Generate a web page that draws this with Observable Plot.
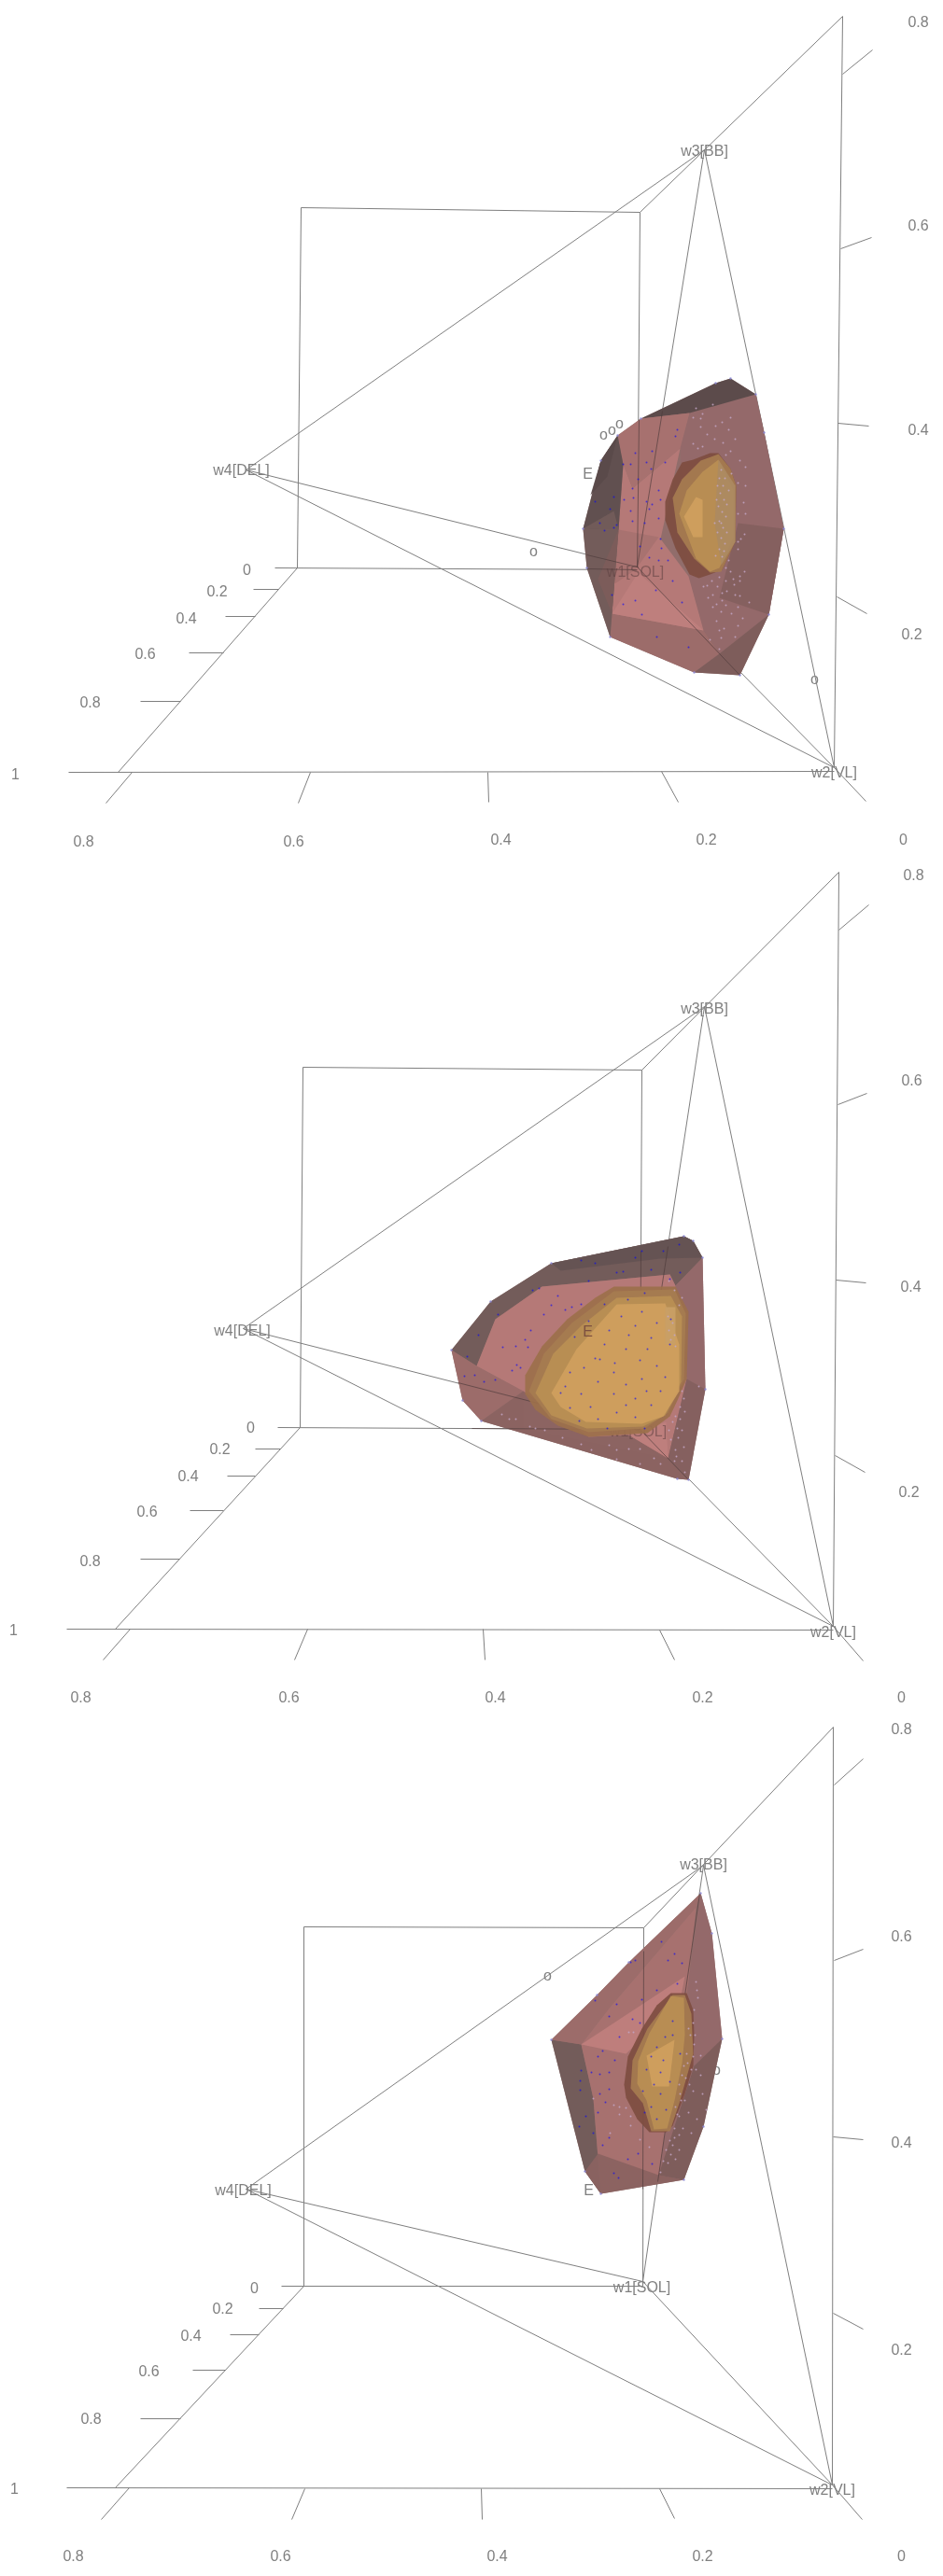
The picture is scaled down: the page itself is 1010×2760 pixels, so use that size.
<!DOCTYPE html>
<html><head><meta charset="utf-8">
<script src="https://cdn.jsdelivr.net/npm/d3@7"></script>
<script src="https://cdn.jsdelivr.net/npm/@observablehq/plot@0.6"></script>
<style>html,body{margin:0;background:#fff}svg{display:block;filter:blur(.25px)}</style>
</head><body><div id="chart"></div>
<script>
// Axis labels, simplex vertices and outliers read from each rotated view: [text, x, y]
const labels1=[["0.8",983,23],["0.6",983,241],["0.4",983,460],["0.2",976,679],["0",264,610],["0.2",232,633],["0.4",199,662],["0.6",155,700],["0.8",96,752],["1",16,829],["0.8",89,901],["0.6",314,901],["0.4",536,899],["0.2",756,899],["0",967,899],["w3[BB]",754,161],["w4[DEL]",258,503],["w2[VL]",893,827],["w1[SOL]",680,612],["E",629,507],["o",646,465],["o",655,460],["o",663,453],["o",571,590],["o",872,727]];
const labels2=[["0.8",978,17],["0.6",976,237],["0.4",975,458],["0.2",973,678],["0",268,609],["0.2",235,632],["0.4",201,661],["0.6",157,699],["0.8",96,752],["1",14,826],["0.8",86,898],["0.6",309,898],["0.4",530,898],["0.2",752,898],["0",965,898],["w3[BB]",754,160],["w4[DEL]",259,505],["w2[VL]",892,828],["w1[SOL]",683,613],["E",629,506]];
const labels3=[["0.8",965,12],["0.6",965,234],["0.4",965,455],["0.2",965,677],["0",272,611],["0.2",238,633],["0.4",204,662],["0.6",159,700],["0.8",97,751],["1",15,826],["0.8",78,898],["0.6",300,898],["0.4",532,898],["0.2",752,898],["0",965,898],["w3[BB]",753,157],["w4[DEL]",260,506],["w2[VL]",891,827],["w1[SOL]",687,610],["E",630,506],["o",586,276],["o",767,377]];
const ghostLabels1=[["w1[SOL]",680,612]];
const ghostLabels2=[["w1[SOL]",683,613],["E",629,506]];
const ghostLabels3=[];

// Box edges, simplex edges and axis ticks: [x1,y1,x2,y2]
const edges1=[[322,222,685,227],[322,222,318,608],[685,227,682,610],[294,608,682,610],[73,827,893,826],[318,608,126,827],[902,17,893,822],[902,17,685,227],[754,160,263,503],[754,160,682,607],[754,160,893,822],[263,503,682,607],[263,503,893,822],[682,607,893,822],[902,79,934,53],[900,266,933,254],[897,453,930,456],[896,639,928,657],[893,822,927,858],[271,631,298,631],[241,660,273,660],[202,699,239,699],[150,751,193,751],[141,827,113,860],[332,827,319,860],[522,827,523,859],[708,826,726,859]];
const edges2=[[324,223,687,226],[324,223,321,609],[687,226,685,611],[297,609,685,611],[71,825,892,826],[321,609,123,825],[898,14,892,822],[898,14,687,226],[754,158,260,503],[754,158,685,611],[754,158,892,822],[260,503,685,611],[260,503,892,822],[685,611,892,822],[898,76,930,49],[897,263,928,251],[895,451,927,454],[894,639,926,657],[892,822,924,859],[273,632,300,632],[243,661,273,661],[203,698,239,698],[150,750,192,750],[139,825,110,858],[329,825,315,858],[517,825,519,858],[706,826,722,858]];
const edges3=[[325,224,689,225],[325,224,325,609],[689,225,688,609],[301,609,688,609],[71,825,891,826],[325,609,123,825],[892,10,891,822],[892,10,689,225],[753,158,263,505],[753,158,688,604],[753,158,891,822],[263,505,688,604],[263,505,891,822],[688,604,891,822],[893,72,924,44],[893,260,924,248],[892,449,924,452],[892,638,924,655],[891,822,923,859],[277,633,303,633],[246,661,277,661],[206,699,241,699],[150,751,193,751],[138,825,108,859],[326,826,312,859],[515,826,516,859],[706,826,722,858]];
// Stretches of those edges that show through the translucent outer hull
const throughHull1=[[684,449,682,607],[709,440,682,607],[628,594,682,607],[628,609,682,610],[682,607,792,723]];
const throughHull2=[[686,420,685,611],[715,415,685,611],[490,561,685,611],[505,610,685,611],[685,611,737,665]];
const throughHull3=[[689,250,688,505],[749,188,704,497]];

// Outer convex hull: silhouette vertices
const outline1=[[782,405],[809,422],[818,463],[839,566],[823,658],[792,723],[743,720],[653,682],[628,608],[624,566],[643,493],[661,466],[686,448],[766,410]];
const outline2=[[732,404],[742,409],[752,427],[755,568],[737,665],[725,664],[515,602],[495,580],[483,526],[525,474],[590,433]];
const outline3=[[750,188],[762,231],[773,344],[753,438],[732,495],[643,510],[626,486],[590,345],[639,297],[673,262]];

// Hull facets: [shade, vertices]
const hull1=[
["base",outline1],
["mid",[[738,442],[809,422],[818,463],[839,566],[823,658],[770,700],[753,675],[737,617],[728,480]]],
["midLow",[[839,566],[823,658],[770,640],[790,560]]],
["midWarm",[[653,682],[655,657],[753,675],[770,700],[743,720]]],
["shadow",[[743,720],[770,700],[823,658],[792,723]]],
["darkest",[[686,448],[766,410],[782,405],[809,422],[738,442]]],
["rose",[[661,466],[686,448],[738,442],[728,480],[677,523],[667,497]]],
["pink",[[667,497],[677,523],[728,480],[707,577],[737,617],[753,675],[655,657],[662,567]]],
["rose",[[662,567],[705,575],[680,610],[658,625]]],
["pinkHi",[[655,657],[683,613],[753,675]]],
["dark",[[624,566],[643,493],[661,466],[667,497],[662,567]]],
["darkLift",[[624,566],[662,567],[655,657],[653,682],[628,608]]],
["darkest",[[643,493],[661,466],[650,510],[632,530]]],
["darkLift",[[624,566],[657,547],[662,567]]],
["shadow",[[640,620],[662,567],[655,657]]]];
const amber1=[
["rim",[[760,485],[769,485],[782,502],[788,520],[787,580],[773,610],[760,615],[748,619],[738,615],[723,587],[712,557],[712,537],[720,513],[730,495],[742,492]]],
["amber",[[750,493],[769,486],[782,502],[788,520],[787,580],[772,612],[760,613],[743,598],[725,570],[720,533],[730,513]]],
["gold",[[727,550],[735,525],[752,505],[769,492],[778,510],[785,525],[785,575],[770,608],[760,612],[745,598]]],
["goldHi",[[732,553],[745,532],[752,535],[752,575],[742,575]]],
["amberCool",[[769,492],[787,520],[787,580],[772,605],[765,560]]]];

const hull2=[
["base",outline2],
["darkLift",[[483,526],[525,474],[590,433],[732,404],[742,409],[752,427],[723,457],[717,445],[580,458],[530,493],[510,543]]],
["darkSoft",[[590,433],[732,404],[742,409],[752,427],[707,428],[600,441]]],
["midWarm",[[483,526],[510,543],[560,570],[515,602],[495,580]]],
["pink",[[580,458],[717,445],[723,457],[735,557],[715,642],[560,610],[560,570],[510,543],[530,493]]],
["shadowWarm",[[515,602],[560,570],[630,619],[673,617],[715,642],[737,665],[725,664]]],
["pinkHi",[[673,617],[713,603],[715,642]]],
["mid",[[723,457],[752,427],[755,568],[735,557]]],
["midLow",[[735,557],[755,568],[737,665],[715,642]]]];
const amber2=[
["rimSoft",[[657,458],[723,458],[737,485],[735,557],[725,580],[717,597],[693,615],[630,619],[597,607],[573,590],[562,573],[562,553],[580,522],[607,493],[637,470]]],
["amber",[[566,570],[582,530],[612,497],[657,463],[722,461],[734,487],[732,557],[715,593],[690,610],[630,614],[590,600]]],
["gold",[[573,572],[592,530],[622,500],[660,470],[718,468],[730,490],[729,560],[712,596],[688,608],[628,610],[590,596]]],
["goldHi",[[590,572],[617,525],[660,477],[712,476],[727,520],[727,570],[710,597],[687,605],[627,603],[600,587]]],
["amberPale",[[712,480],[723,480],[723,520],[712,520]]]];

const hull3=[
["base",outline3],
["darkLift",[[590,345],[622,350],[635,408],[643,510],[626,486]]],
["midWarm",[[590,345],[639,297],[673,262],[750,188],[745,203],[653,310],[622,350]]],
["rose",[[622,350],[653,310],[745,203],[737,283],[705,490],[643,510],[635,408]]],
["pinkHi",[[622,350],[733,277],[728,303],[670,360]]],
["shadowWarm",[[626,486],[643,510],[732,495],[705,490],[640,467]]],
["mid",[[750,188],[762,231],[773,344],[743,373],[732,495],[705,490],[737,283]]],
["shadow",[[773,344],[753,438],[732,495],[705,490],[743,373]]]];
const amber3=[
["rim",[[718,295],[735,295],[742,313],[743,340],[742,373],[733,403],[720,437],[713,444],[695,444],[682,430],[670,407],[668,393],[672,363],[687,333],[703,308]]],
["amber",[[720,297],[733,297],[740,317],[742,360],[727,413],[717,443],[697,443],[688,413],[675,397],[677,367],[693,333]]],
["gold",[[718,298],[732,300],[733,340],[730,370],[722,410],[714,440],[700,441],[692,410],[682,392],[683,368],[695,338]]],
["goldHi",[[692,362],[722,345],[716,395],[698,395]]]];

// Sampled points inside the hull: pale where they lie behind the surface, blue where in front
const pale1=[[742,447],[752,443],[745,437],[750,448],[763,433],[782,447],[773,452],[780,460],[765,470],[750,457],[742,475],[747,480],[752,478],[777,487],[782,483],[792,493],[798,500],[783,507],[790,517],[796,538],[790,550],[798,550],[797,572],[790,580],[793,577],[790,588],[777,608],[782,612],[792,617],[797,612],[770,618],[768,628],[777,622],[785,620],[792,622],[773,635],[763,637],[753,628],[767,647],[777,648],[787,637],[792,638],[802,645],[783,657],[795,662],[767,665],[770,675],[775,673],[772,683],[787,682],[770,695],[760,685],[778,633],[757,627],[773,643],[772,503],[770,512],[774,520],[771,528],[775,535],[769,542],[773,548],[777,553],[770,558],[774,565],[768,570],[772,576],[776,582],[770,588],[766,595],[773,596],[765,560],[778,540],[780,525],[776,512],[768,520],[778,570],[775,590],[767,535],[772,560],[780,600],[786,626],[762,622],[772,655],[758,640],[763,650],[790,650],[790,670],[766,456],[757,465],[774,474],[787,470],[798,520]];
const blue1=[[675,497],[692,495],[697,502],[667,497],[680,485],[698,483],[712,495],[723,467],[725,460],[683,513],[677,523],[668,535],[678,533],[692,537],[705,525],[707,535],[698,540],[675,547],[653,545],[642,560],[660,562],[657,565],[647,568],[677,558],[705,555],[695,545],[690,560],[685,585],[708,587],[707,577],[695,597],[705,600],[715,600],[720,622],[702,632],[680,643],[667,647],[687,658],[730,645],[703,682],[737,693],[637,537],[657,532],[655,637]];
const pale2=[[730,470],[748,565],[730,570],[732,578],[728,587],[723,597],[728,600],[720,603],[725,610],[730,612],[718,622],[723,633],[730,645],[722,645],[733,657],[537,595],[545,600],[552,600],[567,608],[573,610],[583,612],[602,620],[622,627],[633,633],[652,628],[660,633],[673,632],[685,648],[700,642],[707,648],[660,643],[685,632],[715,490],[720,497],[716,505],[722,510],[718,515],[723,522],[726,620],[732,630],[716,612],[733,592],[727,478],[722,462],[716,452],[724,640]];
const blue2=[[615,512],[647,477],[665,490],[687,485],[703,497],[673,510],[647,520],[637,535],[642,536],[670,525],[685,537],[703,543],[657,550],[610,550],[622,573],[600,572],[610,588],[632,587],[657,573],[680,578],[697,585],[707,570],[660,593],[640,600],[620,602],[680,598],[690,610],[658,540],[697,513],[687,557],[670,563],[718,493],[717,520],[582,488],[590,478],[605,483],[612,480],[622,477],[597,468],[568,505],[562,515],[552,522],[538,523],[553,542],[557,545],[565,523],[548,548],[530,558],[508,553],[497,554],[518,560],[500,533],[512,510],[533,488],[570,462],[577,460],[630,452],[637,433],[622,430],[660,443],[667,442],[680,427],[687,420],[697,440],[710,420],[727,413],[728,443],[717,450],[630,495],[652,505],[680,500],[693,525],[625,545],[640,560],[670,585],[650,610],[692,570],[605,565],[690,465],[672,472],[712,555]];
const pale3=[[745,283],[747,300],[743,313],[742,327],[743,350],[742,363],[750,362],[740,377],[745,377],[738,393],[742,400],[733,410],[737,423],[727,427],[722,440],[727,447],[717,453],[720,458],[713,463],[727,463],[710,475],[715,477],[707,487],[752,403],[750,383],[723,473],[728,403],[723,417],[727,393],[730,383],[732,373],[735,360],[737,333],[673,337],[678,337],[635,408],[663,417],[670,418],[657,415],[663,425],[675,427],[675,437],[653,445],[685,452],[695,460],[739,340],[736,370],[734,386],[729,410],[725,425],[722,450],[718,468],[731,440],[744,340],[746,292],[756,420],[746,430],[740,445]];
const blue3=[[663,342],[685,327],[677,323],[645,357],[640,363],[658,367],[652,380],[642,382],[622,378],[621,389],[621,399],[633,380],[652,398],[642,403],[648,412],[627,427],[640,423],[620,438],[635,445],[652,450],[645,458],[683,467],[672,473],[698,478],[657,488],[662,493],[660,307],[637,303],[652,320],[675,262],[680,260],[708,240],[722,253],[715,260],[730,263],[725,285],[687,302],[703,292],[712,342],[703,353],[720,325],[697,363],[710,367],[692,377],[707,380],[700,393],[717,390],[688,400],[707,403],[697,417],[713,420],[703,430],[690,423],[720,340],[728,360]];

const shadeNames=["base","darkest","dark","darkSoft","darkLift","shadow","shadowWarm","midLow","mid","midWarm","rose","pink","pinkHi","rim","rimSoft","amberCool","amber","amberPale","gold","goldHi"];
const shadeColors=["#8d6765","#5a4a4a","#5f4f4f","#655353","#715c5a","#7d5d5b","#8a6361","#84605f","#94696a","#9c6c6a","#a8716f","#b67a78","#be7f7d","#7e4d40","#9c704b","#ab8a62","#a67c50","#c9a066","#ba8f54","#cf9f5e"];
const dotNames=["pale","blue","vertex"];
const dotColors=["#c3a6c6","#8677b2","#8b88d8"];

const rowsOf=(facets,tag)=>facets.flatMap(([shade,pts],i)=>pts.map(([x,y])=>({x,y,shade,facet:tag+i})));
const dotsOf=(arr,kind)=>arr.map(([x,y])=>({x,y,kind}));
const views=[
 {labels:labels1,ghost:ghostLabels1,edges:edges1,through:throughHull1,outline:outline1,hull:hull1,amber:amber1,pale:pale1,blue:blue1},
 {labels:labels2,ghost:ghostLabels2,edges:edges2,through:throughHull2,outline:outline2,hull:hull2,amber:amber2,pale:pale2,blue:blue2},
 {labels:labels3,ghost:ghostLabels3,edges:edges3,through:throughHull3,outline:outline3,hull:hull3,amber:amber3,pale:pale3,blue:blue3}];

const font={fontFamily:"'Liberation Sans',Arial,sans-serif",fontSize:16};
const link=(data,o)=>Plot.link(data,{x1:d=>d[0],y1:d=>d[1],x2:d=>d[2],y2:d=>d[3],strokeWidth:1,...o});
const text=(data,o)=>Plot.text(data,{x:d=>d[1],y:d=>d[2],text:d=>d[0],textAnchor:"middle",lineAnchor:"middle",...font,...o});
const poly=(rows,o)=>Plot.line(rows,{x:"x",y:"y",z:"facet",fill:"shade",stroke:"none",...o});

const root=document.getElementById("chart");
for(const v of views){
 root.append(Plot.plot({
  width:1010,height:920,margin:0,
  x:{domain:[0,1010],range:[0,1010],axis:null},
  y:{domain:[0,920],range:[0,920],axis:null},
  color:{type:"ordinal",domain:[...shadeNames,...dotNames],range:[...shadeColors,...dotColors]},
  style:{background:"#fff"},
  marks:[
   link(v.edges,{stroke:"#7f7f7f"}),
   text(v.labels,{fill:"#808080"}),
   poly(rowsOf(v.hull,"h"),{fillOpacity:.96}),
   link(v.through,{stroke:"#4d3a3a",strokeOpacity:.65}),
   text(v.ghost.filter(d=>d[0]!=="E"),{fill:"#5b3f3f",fillOpacity:.55}),
   poly(rowsOf(v.amber,"a"),{fillOpacity:.92}),
   text(v.ghost.filter(d=>d[0]==="E"),{fill:"#7d5040"}),
   Plot.dot(dotsOf(v.pale,"pale"),{x:"x",y:"y",r:1,fill:"kind",fillOpacity:.85,stroke:"none"}),
   Plot.dot(dotsOf(v.blue,"blue"),{x:"x",y:"y",r:1,fill:"kind",fillOpacity:.6,stroke:"none"}),
   Plot.dot(dotsOf(v.outline,"vertex"),{x:"x",y:"y",r:1.2,fill:"kind",fillOpacity:.8,stroke:"none"})
  ]
 }));
}
</script></body></html>
